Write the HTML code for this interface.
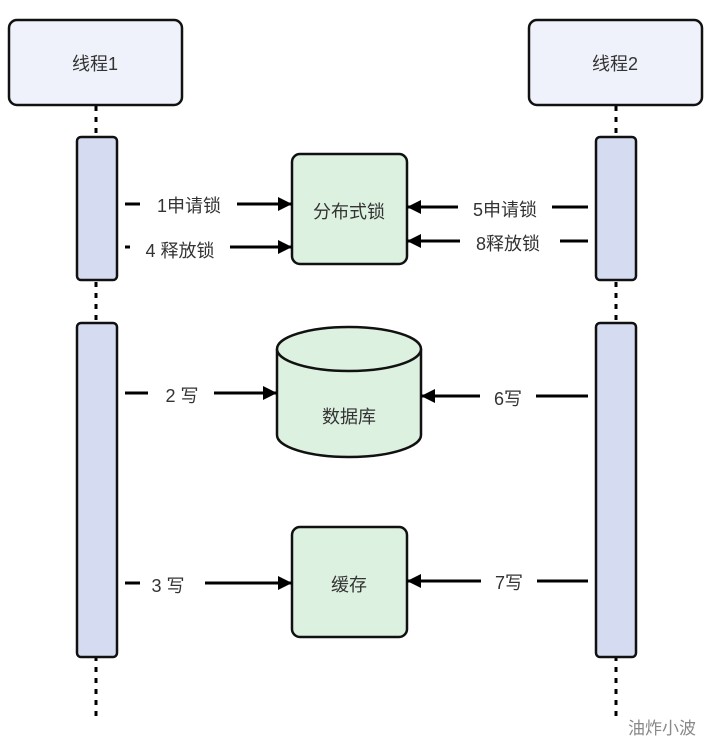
<!DOCTYPE html>
<html><head><meta charset="utf-8"><style>
body{margin:0;background:#fff;width:713px;height:747px;overflow:hidden}
svg text{font-family:"Liberation Sans","Noto Sans CJK SC",sans-serif;font-size:18px;fill:#333}
</style></head><body>
<svg width="713" height="747" xmlns="http://www.w3.org/2000/svg">
<defs>
<marker id="ah" viewBox="0 0 14 14" markerWidth="14" markerHeight="14" refX="14" refY="7" orient="auto" markerUnits="userSpaceOnUse"><path d="M0,0 L14,7 L0,14 z" fill="#000"/></marker></defs>
<g stroke="#000" stroke-width="3" stroke-dasharray="5,6">
<line x1="96" y1="106" x2="96" y2="718"/><line x1="616" y1="106" x2="616" y2="718"/></g>
<g stroke="#111" stroke-width="2.5">
<rect x="9" y="20" width="173" height="85" rx="8" fill="#eff2fb"/>
<rect x="529" y="20" width="173" height="85" rx="8" fill="#eff2fb"/>
<rect x="77" y="137" width="40" height="143" rx="4" fill="#d5dcf1"/>
<rect x="77" y="323" width="40" height="334" rx="4" fill="#d5dcf1"/>
<rect x="596" y="137" width="40" height="143" rx="4" fill="#d5dcf1"/>
<rect x="596" y="323" width="40" height="334" rx="4" fill="#d5dcf1"/>
<rect x="292" y="154" width="115" height="110" rx="8" fill="#ddf1e0"/>
<rect x="292" y="527" width="115" height="110" rx="8" fill="#ddf1e0"/>
<path d="M277,349 L277,435 A72,22 0 0 0 421,435 L421,349" fill="#ddf1e0"/>
<ellipse cx="349" cy="349" rx="72" ry="22" fill="#ddf1e0"/>
</g>
<g stroke="#000" stroke-width="3" fill="none">
<line x1="125" y1="204" x2="140" y2="204"/><line x1="237" y1="204" x2="292" y2="204" marker-end="url(#ah)"/>
<line x1="125" y1="247" x2="130" y2="247"/><line x1="230" y1="247" x2="292" y2="247" marker-end="url(#ah)"/>
<line x1="588" y1="207" x2="552" y2="207"/><line x1="458" y1="207" x2="407" y2="207" marker-end="url(#ah)"/>
<line x1="588" y1="241" x2="560" y2="241"/><line x1="460" y1="241" x2="407" y2="241" marker-end="url(#ah)"/>
<line x1="125" y1="393" x2="148" y2="393"/><line x1="214" y1="393" x2="277" y2="393" marker-end="url(#ah)"/>
<line x1="588" y1="396" x2="536" y2="396"/><line x1="480" y1="396" x2="421" y2="396" marker-end="url(#ah)"/>
<line x1="125" y1="583" x2="140" y2="583"/><line x1="205" y1="583" x2="292" y2="583" marker-end="url(#ah)"/>
<line x1="588" y1="581" x2="537" y2="581"/><line x1="481" y1="581" x2="407" y2="581" marker-end="url(#ah)"/>
</g>
<text x="95" y="70" text-anchor="middle">线程1</text>
<text x="615" y="70" text-anchor="middle">线程2</text>
<text x="349" y="218" text-anchor="middle">分布式锁</text>
<text x="349" y="423" text-anchor="middle">数据库</text>
<text x="349" y="591" text-anchor="middle">缓存</text>
<text x="189" y="212" text-anchor="middle">1申请锁</text>
<text x="180" y="257" text-anchor="middle">4 释放锁</text>
<text x="505" y="216" text-anchor="middle">5申请锁</text>
<text x="508" y="250" text-anchor="middle">8释放锁</text>
<text x="182" y="402" text-anchor="middle">2 写</text>
<text x="508" y="405" text-anchor="middle">6写</text>
<text x="168" y="592" text-anchor="middle">3 写</text>
<text x="509" y="589" text-anchor="middle">7写</text>
<text x="662" y="734" text-anchor="middle" style="fill:#888;font-size:17px">油炸小波</text>
</svg>
</body></html>
